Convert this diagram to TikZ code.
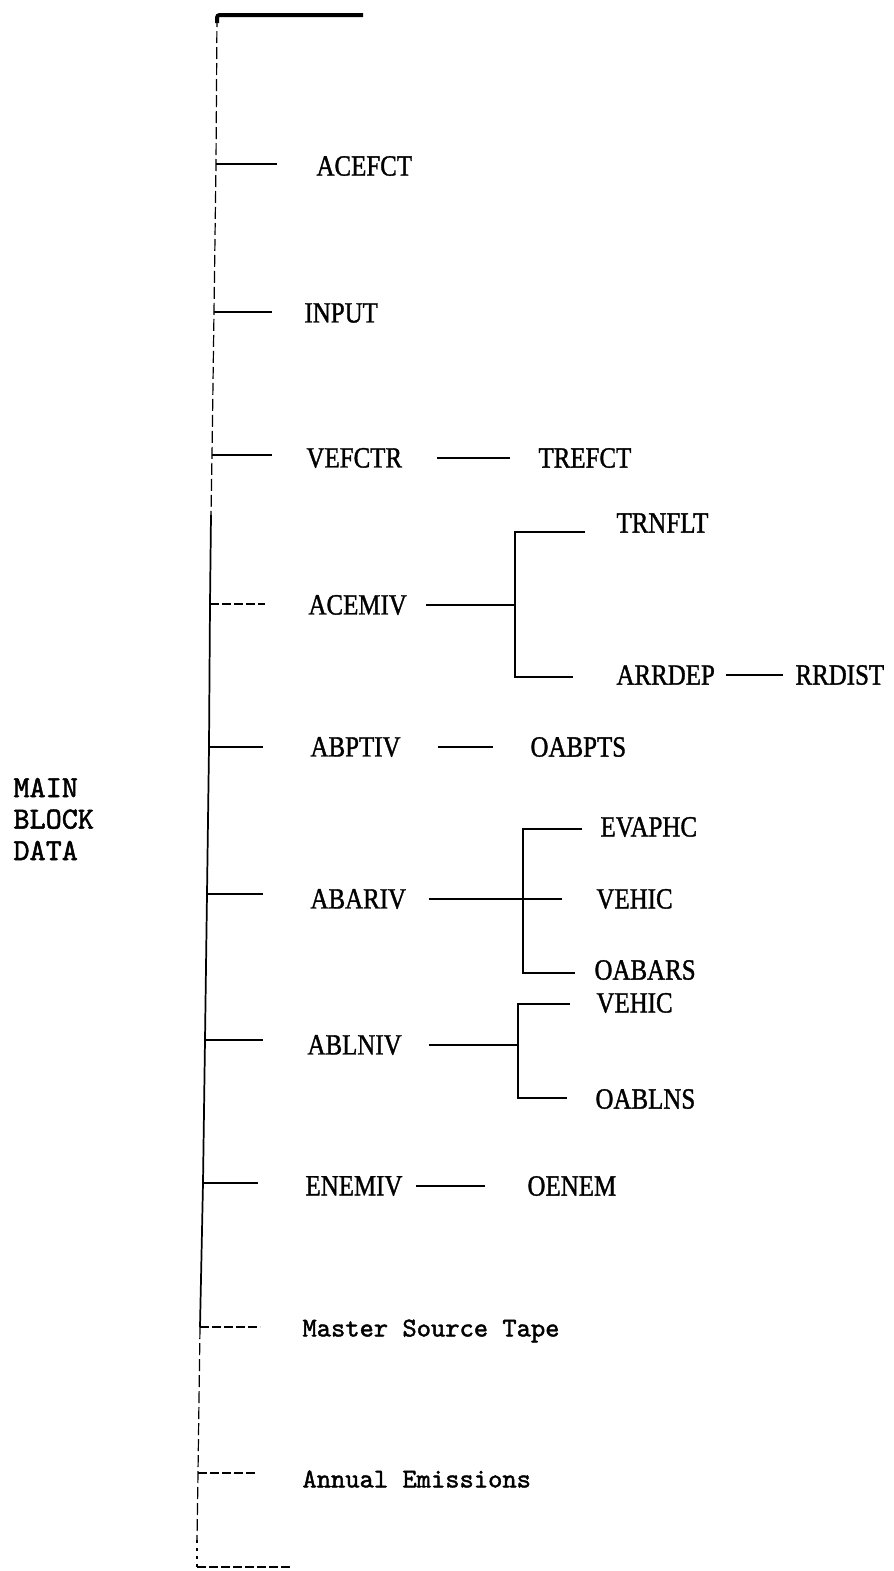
\documentclass[tikz,border=0pt]{standalone}
\usepackage{fontspec}
\newfontfamily\labfont[FakeStretch=0.85,FakeBold=1.2]{Liberation Serif}
\newfontfamily\tapefont{lmmono10-regular.otf}[FakeBold=1.6]
\usetikzlibrary{calc}

\tikzset{every picture/.style={line width=0.75pt}}
\tikzset{
  lab/.style={anchor=west, inner sep=0pt, font=\labfont\fontsize{22}{26}\selectfont},
  tape/.style={anchor=west, inner sep=0pt, font=\tapefont\fontsize{20.4}{24}\selectfont},
  link/.style={line width=1.3pt},
  faint/.style={line width=1pt, dash pattern=on 7pt off 2pt},
  trunkfaint/.style={line width=0.9pt, dash pattern=on 9pt off 3pt},
}

\begin{document}
\begin{tikzpicture}[x=0.75pt,y=0.75pt,yscale=-1,xscale=1]
\useasboundingbox (0,0) rectangle (893,1571);

% Trunk points
\coordinate (top) at (217,15);
\coordinate (t1) at (216,164);
\coordinate (t2) at (214,312);
\coordinate (t3) at (212,455);
\coordinate (tg) at (211,515);
\coordinate (t4) at (210,604);
\coordinate (t5) at (209,747);
\coordinate (t6) at (207,894);
\coordinate (t7) at (205,1040);
\coordinate (t8) at (203,1183);
\coordinate (t9) at (200,1327);
\coordinate (t10) at (198,1473);
\coordinate (bot) at (197,1540);
\coordinate (foot) at (197,1567);

%Straight Lines [top bar]
\draw [line width=3pt, rounded corners=2pt] ($(top)+(0,8)$) -- (top) -- (363,15);
%Straight Lines [trunk]
\draw [trunkfaint] (top) -- (t1) -- (t2) -- (t3) -- (tg);
\draw [link] (tg) -- (t4) -- (t5) -- (t6) -- (t7) -- (t8) -- (t9);
\draw [trunkfaint] (t9) -- (t10) -- (bot);
\draw [line width=0.9pt, dash pattern=on 2pt off 4pt] (bot) -- (foot);
\draw [faint] (foot) -- (290,1567);

%Straight Lines [branches]
\draw [link] (t1) -- (277,164);
\draw [link] (t2) -- (272,312);
\draw [link] (t3) -- (272,455);
\draw [faint] (t4) -- (265,604);
\draw [link] (t5) -- (263,747);
\draw [link] (t6) -- (263,894);
\draw [link] (t7) -- (263,1040);
\draw [link] (t8) -- (258,1183);
\draw [faint] (t9) -- (260,1327);
\draw [faint] (t10) -- (255,1473);

% Text Node
\node [tape, align=left, font=\tapefont\fontsize{23}{23.6}\selectfont] (main) at (13,819) {MAIN\\BLOCK\\DATA};

% Text Node
\node [lab] (acefct) at (316,166) {ACEFCT};
% Text Node
\node [lab] (input) at (304,313) {INPUT};
% Text Node
\node [lab] (vefctr) at (306,458) {VEFCTR};
% Text Node
\node [lab] (trefct) at (538,458) {TREFCT};
% Text Node
\node [lab] (acemiv) at (308,605) {ACEMIV};
% Text Node
\node [lab] (trnflt) at (616,523) {TRNFLT};
% Text Node
\node [lab] (arrdep) at (616,675) {ARRDEP};
% Text Node
\node [lab] (rrdist) at (795,675) {RRDIST};
% Text Node
\node [lab] (abptiv) at (310,747) {ABPTIV};
% Text Node
\node [lab] (oabpts) at (530,747) {OABPTS};
% Text Node
\node [lab] (evaphc) at (600,827) {EVAPHC};
% Text Node
\node [lab] (abariv) at (310,899) {ABARIV};
% Text Node
\node [lab] (vehica) at (596,899) {VEHIC};
% Text Node
\node [lab] (oabars) at (594,970) {OABARS};
% Text Node
\node [lab] (vehicb) at (596,1003) {VEHIC};
% Text Node
\node [lab] (ablniv) at (307,1045) {ABLNIV};
% Text Node
\node [lab] (oablns) at (595,1099) {OABLNS};
% Text Node
\node [lab] (enemiv) at (305,1186) {ENEMIV};
% Text Node
\node [lab] (oenem) at (527,1186) {OENEM};
% Text Node
\node [tape] (master) at (302,1331) {Master Source Tape};
% Text Node
\node [tape] (annual) at (302,1479) {Annual Emissions};

% Bracket points
\coordinate (ka) at (515,605);
\coordinate (kat) at (515,532);
\coordinate (kab) at (515,677);
\coordinate (kb) at (562,899);
\coordinate (kbt) at (523,829);
\coordinate (kbb) at (523,973);
\coordinate (kc) at (518,1045);
\coordinate (kct) at (518,1004);
\coordinate (kcb) at (518,1098);

%Straight Lines [second level]
\draw [link, shorten <=26pt, shorten >=21pt] (vefctr) -- (trefct);
\draw [link, shorten <=14pt] (acemiv) -- (ka);
\draw [link] (585,532) -- (kat) -- (kab) -- (573,677);
\draw [link, shorten <=8pt, shorten >=9pt] (arrdep) -- (rrdist);
\draw [link, shorten <=28pt, shorten >=28pt] (abptiv) -- (oabpts);
\draw [link, shorten <=16.5pt] (abariv) -- (kb);
\draw [link] (582,829) -- (kbt) -- (kbb) -- (575,973);
\draw [link, shorten <=20pt] (ablniv) -- (kc);
\draw [link] (570,1004) -- (kct) -- (kcb) -- (567,1098);
\draw [link, shorten <=10pt, shorten >=31.5pt] (enemiv) -- (oenem);

\end{tikzpicture}
\end{document}
